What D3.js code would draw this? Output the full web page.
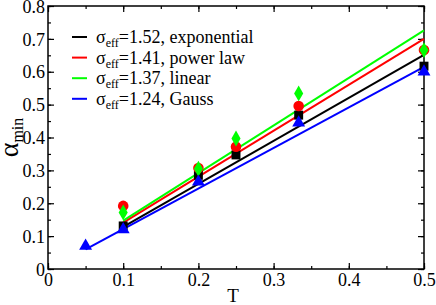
<!DOCTYPE html>
<html>
<head>
<meta charset="utf-8">
<script src="https://cdn.jsdelivr.net/npm/d3@7"></script>
<style>
  body { margin: 0; background: #fff; }
  svg { display: block; }
</style>
</head>
<body>
<svg width="436" height="305"></svg>
<script>
// temperatures
const tMain = [0.1, 0.2, 0.25, 1 / 3, 0.5];
const tGauss = [0.05, 0.1, 0.2, 1 / 3, 0.5];

// alpha_min
const expValues = [0.131, 0.285, 0.347, 0.468, 0.617];
const powValues = [0.192, 0.307, 0.372, 0.496, 0.666];
const linValues = [0.172, 0.305, 0.397, 0.534, 0.666];
const gaussValues = [0.07, 0.12, 0.265, 0.445, 0.60];

// fitted lines, [T, alpha] at both ends
const expFit = [[0.1, 0.128], [0.5, 0.651]];
const powFit = [[0.1, 0.141], [0.5, 0.700]];
const linFit = [[0.1, 0.147], [0.5, 0.726]];
const gaussFit = [[0.05, 0.06], [0.5, 0.615]];

const legendSigma = ["1.52", "1.41", "1.37", "1.24"];
const legendNames = ["exponential", "power law", "linear", "Gauss"];

const xTicks = [0, 0.1, 0.2, 0.3, 0.4, 0.5];
const yTicks = [0, 0.1, 0.2, 0.3, 0.4, 0.5, 0.6, 0.7, 0.8];

const series = [
  { t: tMain, v: expValues, fit: expFit, color: "#000000", symbol: d3.symbolSquare, size: 80 },
  { t: tMain, v: powValues, fit: powFit, color: "#ff0000", symbol: d3.symbolCircle, size: 88 },
  { t: tMain, v: linValues, fit: linFit, color: "#00ff00", symbol: d3.symbolDiamond, size: 72 },
  { t: tGauss, v: gaussValues, fit: gaussFit, color: "#0000ff", symbol: d3.symbolTriangle, size: 72 }
];

const serif = "Liberation Serif";

const svg = d3.select("svg");
const width = +svg.attr("width");
const height = +svg.attr("height");
const margin = { top: 6, right: 12, bottom: 36, left: 48 };
const innerWidth = width - margin.left - margin.right;
const innerHeight = height - margin.top - margin.bottom;

const g = svg.append("g").attr("transform", `translate(${margin.left},${margin.top})`);

const x = d3.scaleLinear().domain([0, 0.5]).range([0, innerWidth]);
const y = d3.scaleLinear().domain([0, 0.8]).range([innerHeight, 0]);

const minorX = d3.range(0, 0.5001, 0.05);
const minorY = d3.range(0, 0.8001, 0.05);

function styleAxis(sel) {
  sel.attr("font-family", serif);
  sel.select(".domain").remove();
  sel.selectAll(".tick line").attr("stroke", "#000").attr("stroke-width", 1.2);
}

// ticks only, no labels
function bareTicks(sel) {
  styleAxis(sel);
  sel.selectAll("text").remove();
}

// minor ticks, all four sides
g.append("g").attr("transform", `translate(0,${innerHeight})`)
  .call(d3.axisBottom(x).tickValues(minorX).tickSize(-3))
  .call(bareTicks);
g.append("g")
  .call(d3.axisTop(x).tickValues(minorX).tickSize(-3))
  .call(bareTicks);
g.append("g")
  .call(d3.axisLeft(y).tickValues(minorY).tickSize(-3))
  .call(bareTicks);
g.append("g").attr("transform", `translate(${innerWidth},0)`)
  .call(d3.axisRight(y).tickValues(minorY).tickSize(-3))
  .call(bareTicks);

// major ticks with labels
const fmt = d => d === 0 ? "0" : d3.format(".1f")(d);

g.append("g").attr("transform", `translate(0,${innerHeight})`)
  .call(d3.axisBottom(x).tickValues(xTicks).tickSize(-6).tickFormat(fmt))
  .call(styleAxis)
  .call(a => a.selectAll("text").attr("font-size", 18).attr("fill", "#000")
    .attr("y", 17).attr("dy", null));
g.append("g")
  .call(d3.axisTop(x).tickValues(xTicks).tickSize(-6))
  .call(bareTicks);
g.append("g")
  .call(d3.axisLeft(y).tickValues(yTicks).tickSize(-6).tickFormat(fmt))
  .call(styleAxis)
  .call(a => a.selectAll("text").attr("font-size", 18).attr("fill", "#000")
    .attr("x", -3).attr("dy", "0.34em"));
g.append("g").attr("transform", `translate(${innerWidth},0)`)
  .call(d3.axisRight(y).tickValues(yTicks).tickSize(-6))
  .call(bareTicks);

// frame
g.append("rect")
  .attr("width", innerWidth).attr("height", innerHeight)
  .attr("fill", "none").attr("stroke", "#000").attr("stroke-width", 1.5);

// fit lines and points
const line = d3.line().x(d => x(d[0])).y(d => y(d[1]));

series.forEach(s => {
  g.append("path")
    .datum(s.fit)
    .attr("d", line)
    .attr("fill", "none")
    .attr("stroke", s.color)
    .attr("stroke-width", 2);
});

series.forEach(s => {
  g.append("g").selectAll("path")
    .data(s.t.map((t, i) => [t, s.v[i]]))
    .join("path")
    .attr("transform", d => `translate(${x(d[0])},${y(d[1])})`)
    .attr("d", d3.symbol().type(s.symbol).size(s.size))
    .attr("fill", s.color);
});

// legend
const legend = svg.append("g").attr("transform", "translate(72,37)");
series.forEach((s, i) => {
  const row = legend.append("g").attr("transform", `translate(0,${i * 20.6})`);
  row.append("line")
    .attr("x1", 0).attr("x2", 15)
    .attr("stroke", s.color).attr("stroke-width", 2);
  const txt = row.append("text")
    .attr("x", 24).attr("y", 6)
    .attr("font-family", serif)
    .attr("font-size", 18)
    .attr("fill", "#000");
  txt.append("tspan").text("σ");
  txt.append("tspan").attr("font-size", 12).attr("dy", 4).text("eff");
  txt.append("tspan").attr("dy", -4).text(`=${legendSigma[i]}, ${legendNames[i]}`);
});

// axis titles
svg.append("text")
  .attr("x", margin.left + x(0.25) - 3)
  .attr("y", 302)
  .attr("text-anchor", "middle")
  .attr("font-family", serif)
  .attr("font-size", 19)
  .text("T");

const yl = svg.append("text")
  .attr("transform", `translate(18,${margin.top + innerHeight / 2}) rotate(-90)`)
  .attr("font-family", serif)
  .attr("text-anchor", "middle");
yl.append("tspan").attr("font-size", 28).text("α");
yl.append("tspan").attr("font-size", 16).attr("dy", 5).text("min");
</script>
</body>
</html>
